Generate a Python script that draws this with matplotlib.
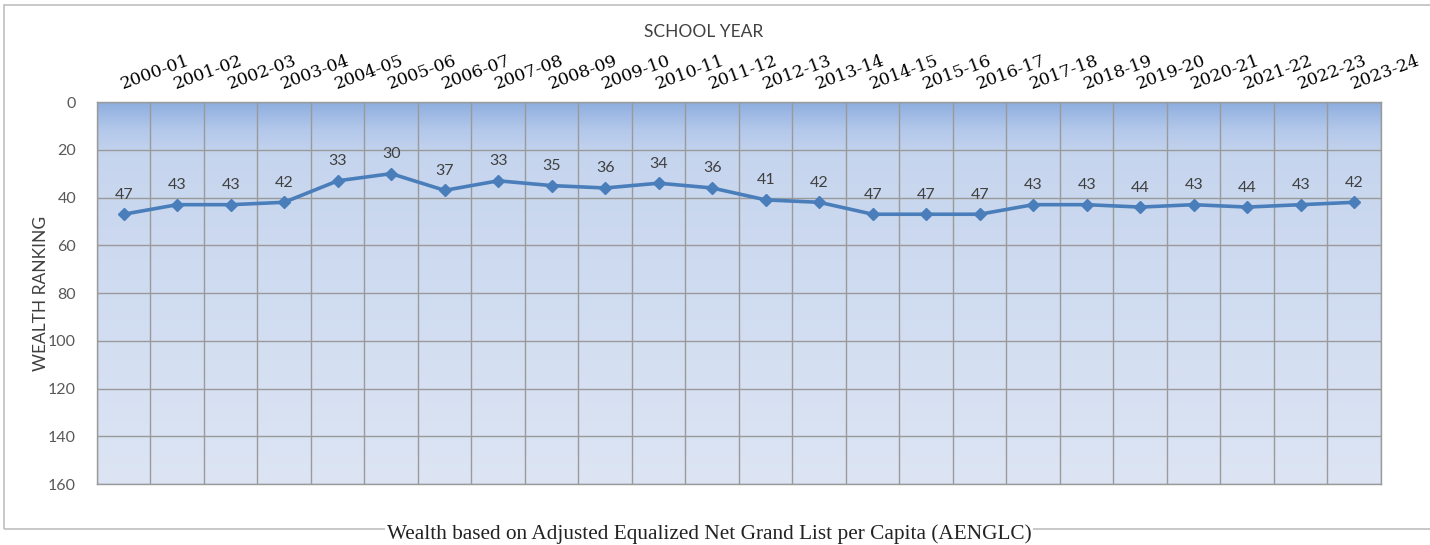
import numpy as np
import matplotlib
matplotlib.use("Agg")
import matplotlib.pyplot as plt
from matplotlib.colors import LinearSegmentedColormap
from matplotlib.patches import Rectangle
from matplotlib.ticker import FixedLocator

years = ["2000-01", "2001-02", "2002-03", "2003-04", "2004-05", "2005-06",
         "2006-07", "2007-08", "2008-09", "2009-10", "2010-11", "2011-12",
         "2012-13", "2013-14", "2014-15", "2015-16", "2016-17", "2017-18",
         "2018-19", "2019-20", "2020-21", "2021-22", "2022-23", "2023-24"]
ranking = [47, 43, 43, 42, 33, 30, 37, 33, 35, 36, 34, 36,
           41, 42, 47, 47, 47, 43, 43, 44, 43, 44, 43, 42]
y_ticks = [0, 20, 40, 60, 80, 100, 120, 140, 160]

LINE = "#4a7ebb"
GRID = "#9a9a9a"

fig = plt.figure(figsize=(14.30, 5.45), dpi=100)
ax = fig.add_axes([0.0678, 0.1119, 0.8979, 0.7009])

x = np.arange(len(years))
ax.set_xlim(-0.5, len(years) - 0.5)
ax.set_ylim(160, 0)

# plot-area fill: darker band at the top fading into pale blue
grad = LinearSegmentedColormap.from_list(
    "area", [(0.0, "#dde5f4"), (0.86, "#c6d5ee"), (0.93, "#b3c8ea"), (1.0, "#8eaedf")])
ax.imshow(np.linspace(0, 1, 256).reshape(-1, 1), cmap=grad, origin="lower",
          extent=[0, 1, 0, 1], transform=ax.transAxes, aspect="auto", zorder=0)

ax.plot(x, ranking, color=LINE, lw=2.6, marker="D", markersize=6.5,
        markeredgecolor=LINE, zorder=3)
for xi, v in zip(x, ranking):
    ax.annotate(str(v), (xi, v), xytext=(0, 9), textcoords="offset points",
                ha="center", va="bottom", fontsize=11.5, color="#404040",
                family="Lato", zorder=4)

# gridlines on category boundaries and y ticks
ax.xaxis.set_minor_locator(FixedLocator(np.arange(-0.5, len(years), 1.0)))
ax.grid(which="minor", axis="x", color=GRID, lw=1.0, zorder=1)
ax.set_yticks(y_ticks)
ax.grid(which="major", axis="y", color=GRID, lw=1.0, zorder=1)
ax.set_axisbelow(True)
for s in ax.spines.values():
    s.set_color(GRID)
    s.set_linewidth(1.0)

ax.xaxis.tick_top()
ax.set_xticks(x)
ax.set_xticklabels(years, rotation=20, ha="left", rotation_mode="anchor",
                   fontsize=12.5, family="DejaVu Serif", color="black")
ax.tick_params(axis="x", which="both", length=0, pad=7)
ax.tick_params(axis="y", length=0, pad=15, labelsize=11.5, labelcolor="#595959")
for lab in ax.get_yticklabels():
    lab.set_family("Lato")

fig.text(0.4923, 0.941, "SCHOOL YEAR", ha="center", va="center",
         fontsize=12.5, color="#404040", family="Lato")
fig.text(0.029, 0.462, "WEALTH RANKING", ha="center", va="center",
         rotation=90, fontsize=12.5, color="#404040", family="Lato")

# outer chart border
fig.patches.append(Rectangle((0.003, 0.029), 0.999, 0.962, transform=fig.transFigure,
                             fill=False, ec="#bfbfbf", lw=1.2))
fig.text(0.496, 0.020, "Wealth based on Adjusted Equalized Net Grand List per Capita (AENGLC)",
         ha="center", va="center", fontsize=15.3, family="Liberation Serif", color="#222222",
         bbox=dict(fc="white", ec="none", pad=1))

fig.savefig("out.png", dpi=100)
